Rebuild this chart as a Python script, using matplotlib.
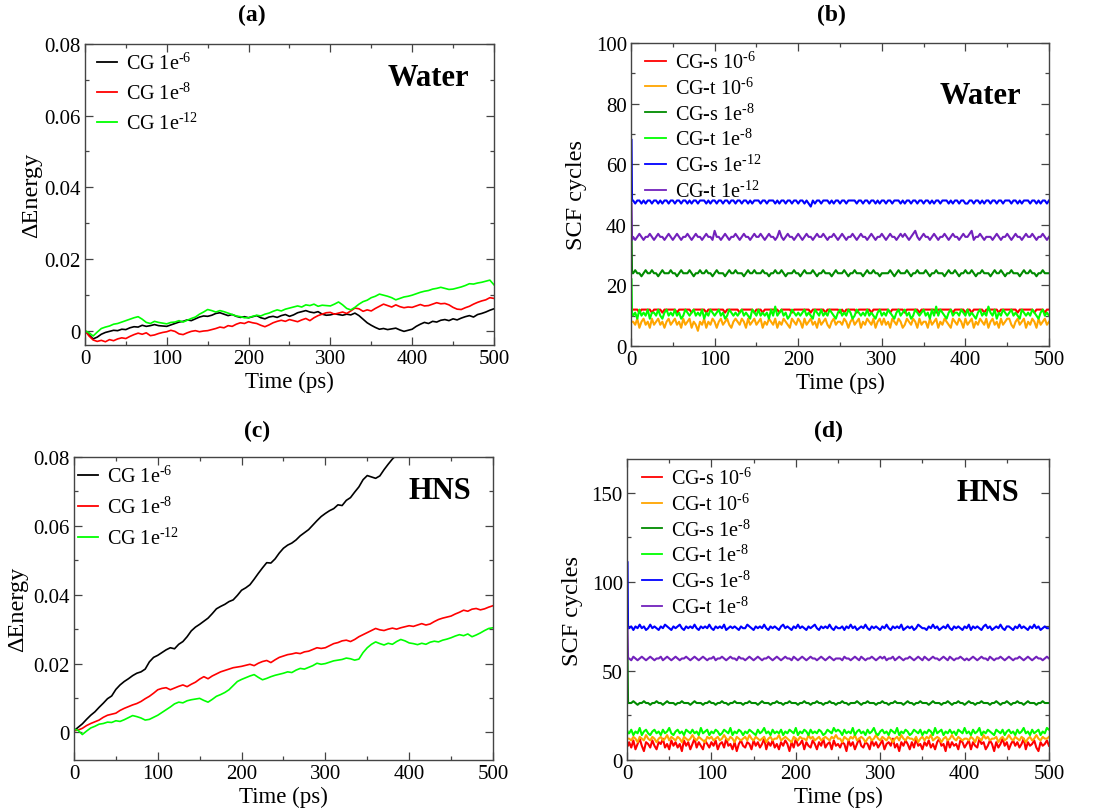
import numpy as np
import matplotlib
matplotlib.use("Agg")
import matplotlib.pyplot as plt
from matplotlib.ticker import MultipleLocator, FuncFormatter

plt.rcParams['font.family'] = ['Liberation Serif', 'DejaVu Serif']
plt.rcParams['mathtext.fontset'] = 'custom'
plt.rcParams['mathtext.rm'] = 'Liberation Serif'
plt.rcParams['mathtext.it'] = 'Liberation Serif:italic'
plt.rcParams['mathtext.bf'] = 'Liberation Serif:bold'

# energy drift traces, one value every 5 ps (in units of 1e-3)
time_e = list(range(0, 501, 5))

water_cg6 = [0.0, -1.2, -2.3, -1.8, -1.0, -0.5, -0.2, 0.1, 0.0, 0.4,
             0.3, 0.8, 1.1, 1.0, 1.5, 1.2, 1.4, 1.7, 1.4, 1.3,
             1.2, 1.6, 2.0, 2.4, 2.6, 3.0, 2.8, 3.3, 3.8, 4.1,
             4.0, 4.3, 4.8, 5.0, 4.6, 4.2, 4.5, 4.0, 3.7, 3.9,
             3.6, 3.9, 4.2, 3.6, 3.3, 3.8, 4.0, 3.7, 4.2, 4.5,
             4.0, 4.4, 5.0, 5.3, 5.6, 5.2, 5.0, 5.3, 4.6, 4.3,
             4.4, 4.7, 4.5, 4.3, 4.6, 4.4, 4.9, 4.2, 3.2, 2.2,
             1.5, 0.9, 0.4, 0.6, 0.3, 0.5, 0.7, 0.2, -0.2, 0.1,
             0.4, 1.2, 1.8, 2.3, 2.0, 2.6, 2.4, 2.9, 3.1, 2.8,
             3.3, 3.0, 3.5, 3.9, 4.2, 3.8, 4.5, 4.8, 5.2, 5.7,
             6.1]
water_cg8 = [0.0, -1.5, -2.6, -3.0, -2.7, -3.1, -2.5, -2.8, -2.3, -2.0,
             -2.2, -1.6, -1.1, -0.7, -1.0, -0.6, -1.4, -1.2, -0.8, -0.5,
             -0.3, 0.1, -0.2, -0.9, -1.1, -0.6, -0.2, 0.0, -0.3, -0.1,
             0.0, 0.3, 0.6, 1.0, 0.8, 1.4, 1.2, 1.8, 2.2, 2.0,
             2.5, 2.2, 2.0, 1.5, 1.1, 1.6, 2.2, 2.6, 2.9, 2.6,
             3.1, 2.8, 2.5, 3.0, 3.4, 2.8, 3.6, 4.2, 4.6, 5.0,
             5.1, 4.6, 4.9, 5.2, 4.8, 5.5, 6.3, 6.1, 5.4, 5.8,
             5.5, 6.2, 6.8, 7.4, 7.0, 6.6, 7.2, 6.7, 6.4, 6.6,
             6.5, 6.9, 7.3, 6.9, 7.0, 7.4, 7.8, 7.5, 7.6, 7.2,
             6.5, 6.0, 5.9, 6.4, 6.8, 7.4, 7.9, 8.3, 8.6, 9.2,
             9.0]
water_cg12 = [0.0, -0.6, -1.5, -0.4, 0.6, 1.0, 1.3, 1.8, 2.0, 2.4,
              2.8, 3.2, 3.6, 3.9, 3.2, 2.3, 2.0, 2.6, 2.3, 2.1,
              1.9, 2.3, 2.4, 2.8, 2.4, 2.9, 3.4, 3.8, 4.6, 5.2,
              5.9, 5.6, 5.2, 5.6, 5.3, 4.9, 4.5, 4.1, 3.9, 3.6,
              3.6, 4.0, 4.3, 4.1, 4.6, 4.9, 5.4, 5.8, 5.5, 6.0,
              6.3, 6.6, 6.9, 6.6, 7.2, 7.0, 7.4, 6.8, 7.1, 7.0,
              6.9, 7.4, 8.0, 7.2, 6.2, 5.8, 6.5, 7.4, 8.1, 8.5,
              9.2, 9.6, 10.2, 9.9, 9.6, 9.2, 8.6, 9.0, 9.4, 9.6,
              9.9, 10.3, 10.7, 11.0, 11.2, 11.6, 11.8, 12.1, 11.8, 11.5,
              11.6, 11.9, 12.2, 12.6, 13.1, 13.0, 13.3, 13.5, 13.8, 14.1,
              12.8]

# HNS, CG 1e-6 leaves the plotted range after ~385 ps
hns_cg6 = [0.5, 1.5, 2.5, 3.8, 5.0, 6.0, 7.3, 8.5, 9.8, 10.6,
           12.5, 13.8, 14.8, 15.6, 16.5, 17.2, 17.6, 18.4, 20.5, 21.8,
           22.4, 23.2, 24.0, 24.6, 24.3, 25.6, 26.4, 27.8, 29.5, 30.6,
           31.4, 32.3, 33.2, 34.5, 35.9, 36.6, 37.2, 38.0, 38.5, 39.8,
           41.3, 42.0, 42.9, 44.5, 46.2, 47.8, 49.3, 49.2, 50.4, 52.1,
           53.5, 54.4, 55.0, 55.9, 57.1, 58.0, 58.9, 60.2, 61.5, 62.7,
           63.6, 64.4, 65.0, 66.1, 65.9, 67.4, 68.2, 69.8, 71.3, 73.4,
           74.6, 74.2, 73.8, 74.5, 76.3, 77.9, 79.4, 80.6, 82.0]
hns_cg8 = [0.5, 0.7, 1.2, 2.0, 2.6, 3.1, 3.6, 4.4, 5.0, 5.3,
           5.6, 6.4, 7.0, 7.5, 8.0, 8.4, 9.0, 9.8, 10.5, 11.4,
           12.4, 12.8, 13.0, 12.4, 12.9, 13.4, 13.8, 13.3, 14.0, 14.6,
           15.5, 16.2, 15.6, 16.4, 17.0, 17.6, 18.0, 18.4, 18.8, 19.0,
           19.2, 19.5, 19.8, 19.4, 20.1, 20.6, 20.9, 20.3, 21.1, 21.8,
           22.2, 22.6, 22.8, 23.1, 22.9, 23.4, 23.6, 24.1, 24.6, 24.4,
           24.6, 25.2, 25.8, 26.1, 26.6, 26.8, 26.4, 27.0, 27.8, 28.4,
           29.0, 29.6, 30.2, 29.8, 29.6, 30.0, 30.3, 30.0, 30.4, 30.7,
           31.0, 30.8, 31.2, 31.6, 31.2, 31.5, 32.2, 32.8, 33.2, 33.5,
           33.8, 34.4, 34.9, 35.5, 35.2, 35.8, 36.0, 35.6, 35.9, 36.4,
           36.8]
hns_cg12 = [1.0, 0.6, -0.6, 0.4, 1.3, 1.8, 2.4, 2.6, 3.0, 2.9,
            3.4, 3.2, 3.7, 4.3, 4.9, 4.6, 4.2, 3.6, 3.8, 4.4,
            5.0, 5.8, 6.6, 7.4, 8.3, 8.8, 8.6, 9.2, 9.5, 9.7,
            9.9, 9.3, 8.8, 9.6, 10.5, 11.0, 11.6, 12.4, 13.6, 14.8,
            15.4, 15.9, 16.4, 16.8, 16.0, 15.3, 15.7, 16.2, 16.6, 16.9,
            17.2, 17.6, 17.4, 18.1, 18.6, 18.4, 18.9, 19.4, 20.1, 19.8,
            20.0, 20.4, 20.8, 21.0, 21.2, 21.6, 21.4, 21.0, 21.3, 23.2,
            24.6, 25.6, 26.3, 25.8, 25.4, 25.9, 25.6, 26.4, 27.0, 26.6,
            26.0, 25.8, 25.5, 25.9, 25.6, 26.2, 26.5, 26.3, 26.8, 27.1,
            27.5, 28.0, 28.4, 28.1, 28.6, 27.8, 28.3, 28.9, 29.6, 30.2,
            30.4]

# SCF cycle counts: first MD steps, then every 2.5 ps
time_scf = [0.6, 1.2] + [2.5 * k for k in range(1, 201)]

w_s6 = [12, 12,
        12, 12, 12, 11, 12, 12, 12, 12, 12, 11, 12, 12, 12, 12, 11, 12, 12, 12, 12, 12,
        12, 11, 12, 12, 12, 12, 12, 12, 11, 12, 12, 12, 12, 12, 12, 11, 12, 12, 12, 12,
        12, 12, 12, 12, 11, 12, 12, 12, 12, 12, 12, 11, 12, 12, 12, 12, 12, 12, 11, 12,
        12, 12, 11, 12, 12, 12, 12, 12, 12, 12, 11, 12, 12, 12, 12, 12, 11, 12, 12, 12,
        12, 12, 12, 12, 12, 11, 12, 12, 12, 12, 12, 12, 11, 12, 12, 12, 12, 12, 12, 11,
        12, 11, 12, 12, 12, 12, 12, 11, 12, 12, 12, 12, 12, 12, 11, 12, 12, 12, 12, 12,
        12, 12, 12, 11, 12, 12, 12, 12, 12, 12, 11, 12, 12, 12, 12, 12, 12, 11, 12, 12,
        12, 12, 12, 12, 12, 11, 12, 12, 12, 12, 12, 12, 12, 11, 12, 12, 12, 12, 12, 11,
        12, 12, 11, 12, 12, 12, 12, 12, 11, 12, 12, 12, 12, 12, 12, 11, 12, 12, 12, 12,
        12, 12, 12, 12, 11, 12, 12, 12, 12, 12, 12, 12, 11, 12, 12, 12, 12, 11, 12, 12]
w_t6 = [8, 8,
        8, 7, 9, 6, 8, 9, 7, 8, 6, 9, 7, 8, 9, 7, 8, 6, 8, 9, 7, 8,
        9, 7, 8, 6, 9, 7, 8, 9, 6, 8, 7, 5, 8, 7, 9, 6, 8, 7, 9, 8,
        6, 8, 9, 7, 8, 9, 7, 6, 8, 9, 8, 7, 9, 8, 6, 9, 7, 8, 9, 7,
        8, 9, 6, 8, 7, 9, 8, 7, 9, 6, 8, 7, 9, 8, 7, 6, 9, 8, 7, 9,
        8, 6, 9, 7, 8, 9, 7, 8, 6, 9, 7, 8, 9, 7, 6, 8, 9, 7, 8, 8,
        7, 9, 8, 6, 8, 9, 7, 8, 9, 6, 8, 7, 9, 8, 7, 9, 6, 8, 9, 7,
        9, 7, 8, 6, 9, 8, 7, 9, 8, 6, 7, 9, 8, 7, 9, 8, 6, 9, 7, 8,
        8, 6, 9, 7, 8, 9, 6, 8, 7, 9, 8, 7, 6, 9, 8, 7, 9, 8, 6, 9,
        7, 8, 9, 6, 8, 7, 9, 8, 7, 9, 6, 8, 9, 7, 8, 6, 9, 7, 8, 9,
        9, 7, 6, 8, 9, 7, 8, 9, 6, 8, 7, 9, 8, 6, 9, 7, 8, 9, 7, 8]
w_s8 = [38, 24,
        24, 25, 24, 24, 23, 24, 25, 24, 24, 25, 24, 24, 23, 24, 25, 24, 24, 24, 25, 24,
        24, 23, 24, 25, 24, 24, 24, 25, 24, 23, 24, 24, 25, 24, 24, 25, 24, 24, 23, 24,
        25, 24, 24, 24, 23, 24, 25, 24, 24, 25, 24, 24, 24, 23, 24, 25, 24, 24, 25, 24,
        24, 24, 25, 24, 24, 23, 24, 24, 25, 24, 24, 25, 24, 23, 24, 24, 24, 25, 24, 24,
        23, 24, 25, 24, 24, 24, 25, 24, 23, 24, 24, 25, 24, 24, 24, 23, 24, 25, 24, 24,
        24, 25, 24, 23, 24, 24, 25, 24, 24, 24, 23, 24, 25, 24, 24, 25, 24, 24, 23, 24,
        24, 24, 24, 25, 24, 23, 24, 25, 24, 24, 24, 25, 24, 23, 24, 24, 25, 24, 24, 24,
        25, 24, 23, 24, 24, 25, 24, 24, 24, 23, 24, 25, 24, 24, 25, 24, 23, 24, 24, 25,
        24, 24, 25, 24, 23, 24, 24, 25, 24, 24, 24, 23, 24, 25, 24, 24, 25, 24, 23, 24,
        24, 25, 24, 24, 24, 23, 24, 25, 24, 24, 25, 24, 24, 23, 24, 24, 25, 24, 24, 24]
w_t8 = [22, 11,
        10, 11, 9, 12, 10, 11, 10, 12, 9, 11, 11, 10, 12, 10, 9, 11, 12, 10, 11, 10,
        12, 10, 11, 9, 10, 12, 11, 10, 11, 12, 10, 11, 10, 12, 9, 11, 10, 12, 11, 10,
        11, 12, 10, 11, 9, 10, 12, 11, 10, 11, 10, 11, 12, 10, 11, 10, 9, 12, 11, 10,
        12, 10, 11, 10, 11, 9, 12, 10, 13, 10, 11, 12, 10, 11, 9, 10, 12, 11, 10, 11,
        10, 11, 12, 10, 11, 10, 9, 12, 11, 10, 12, 10, 11, 10, 12, 11, 10, 9, 11, 12,
        10, 11, 10, 12, 11, 9, 10, 12, 11, 10, 11, 10, 12, 10, 11, 10, 9, 11, 12, 10,
        11, 10, 12, 11, 10, 9, 11, 12, 10, 11, 12, 10, 11, 9, 10, 12, 11, 10, 11, 12,
        10, 11, 9, 12, 10, 13, 10, 12, 11, 10, 9, 11, 12, 10, 11, 11, 10, 12, 11, 10,
        12, 10, 11, 10, 9, 11, 12, 10, 11, 10, 13, 11, 10, 12, 9, 11, 10, 12, 11, 10,
        11, 12, 10, 11, 10, 9, 12, 11, 10, 11, 10, 12, 11, 10, 9, 11, 12, 10, 11, 10]
w_s12 = [68, 48,
         48, 47, 48, 48, 47, 48, 47, 48, 48, 47, 48, 48, 47, 48, 47, 48, 48, 47, 48, 48,
         47, 48, 48, 47, 48, 48, 47, 48, 47, 48, 48, 47, 48, 48, 48, 47, 48, 47, 48, 48,
         47, 48, 48, 47, 48, 48, 47, 48, 48, 47, 48, 48, 47, 48, 48, 47, 48, 47, 48, 48,
         48, 47, 48, 48, 47, 48, 48, 48, 47, 48, 47, 48, 48, 47, 48, 48, 47, 48, 48, 47,
         48, 48, 47, 48, 47, 46, 48, 47, 48, 48, 47, 48, 48, 48, 47, 48, 47, 48, 48, 47,
         48, 48, 47, 48, 48, 48, 48, 47, 48, 48, 47, 48, 48, 47, 48, 48, 47, 48, 47, 48,
         48, 47, 48, 48, 47, 48, 48, 48, 47, 48, 47, 48, 48, 47, 48, 48, 47, 48, 48, 47,
         48, 48, 47, 48, 47, 48, 48, 47, 48, 48, 48, 47, 48, 47, 48, 48, 47, 48, 48, 47,
         47, 48, 48, 47, 48, 48, 47, 48, 47, 48, 48, 47, 48, 48, 47, 48, 48, 47, 48, 48,
         48, 47, 48, 48, 47, 48, 47, 48, 48, 48, 47, 48, 48, 47, 48, 47, 48, 48, 47, 48]
w_t12 = [47, 35,
         36, 35, 36, 37, 36, 35, 36, 36, 37, 36, 35, 36, 37, 36, 36, 35, 36, 37, 36, 35,
         36, 37, 36, 35, 36, 36, 37, 36, 35, 36, 37, 36, 36, 35, 36, 37, 36, 36, 35, 38,
         36, 36, 35, 36, 37, 36, 35, 36, 36, 37, 36, 35, 36, 37, 36, 36, 35, 36, 37, 36,
         36, 37, 36, 35, 36, 37, 36, 36, 35, 36, 38, 36, 35, 36, 37, 36, 36, 35, 36, 37,
         36, 35, 36, 37, 36, 36, 35, 36, 37, 36, 36, 37, 36, 35, 36, 36, 37, 36, 35, 36,
         37, 36, 35, 36, 36, 37, 36, 35, 36, 37, 36, 36, 35, 36, 37, 36, 35, 36, 36, 37,
         36, 35, 36, 37, 36, 36, 35, 36, 37, 36, 37, 36, 35, 36, 37, 38, 36, 35, 36, 37,
         36, 36, 35, 36, 37, 36, 35, 36, 36, 37, 36, 35, 36, 37, 36, 36, 35, 36, 37, 36,
         36, 37, 38, 35, 36, 36, 37, 36, 35, 36, 36, 36, 35, 36, 37, 36, 35, 36, 36, 37,
         36, 35, 36, 37, 36, 36, 35, 36, 37, 36, 36, 37, 36, 35, 36, 36, 37, 36, 35, 36]

h_s6 = [9, 8,
        10, 7, 11, 6, 9, 12, 8, 5, 10, 9, 7, 11, 8, 6, 10, 9, 12, 7, 9, 6,
        11, 8, 10, 7, 9, 5, 11, 8, 10, 6, 9, 12, 7, 10, 8, 6, 11, 9, 7, 10,
        8, 11, 6, 9, 10, 7, 12, 8, 9, 6, 10, 5, 9, 11, 8, 7, 10, 9, 6, 11,
        8, 10, 7, 9, 12, 6, 10, 8, 11, 7, 9, 6, 10, 8, 11, 9, 5, 10, 7, 12,
        8, 9, 11, 6, 10, 8, 7, 11, 9, 6, 10, 8, 12, 7, 9, 10, 6, 11, 8, 9,
        7, 10, 9, 5, 11, 8, 10, 6, 9, 12, 8, 7, 10, 9, 6, 11, 8, 10, 7, 9,
        11, 6, 9, 10, 8, 12, 7, 9, 5, 10, 8, 11, 9, 6, 10, 7, 12, 8, 9, 6,
        10, 8, 11, 7, 9, 6, 10, 12, 8, 9, 5, 11, 7, 10, 8, 9, 6, 11, 10, 7,
        9, 11, 6, 10, 8, 7, 12, 9, 10, 6, 8, 11, 9, 5, 10, 7, 9, 12, 8, 10,
        6, 9, 11, 8, 10, 7, 9, 12, 6, 10, 8, 9, 11, 7, 5, 10, 8, 9, 11, 8]
h_t6 = [12, 12,
        12, 11, 13, 12, 10, 13, 12, 11, 14, 12, 11, 13, 12, 10, 12, 13, 11, 12, 14, 11,
        13, 12, 11, 13, 12, 10, 13, 12, 11, 12, 14, 12, 11, 13, 12, 11, 10, 13, 12, 13,
        11, 12, 13, 11, 12, 14, 12, 11, 13, 12, 10, 13, 12, 11, 12, 13, 11, 14, 12, 11,
        13, 12, 11, 12, 13, 10, 12, 13, 11, 12, 12, 14, 11, 12, 13, 12, 11, 10, 13, 12,
        11, 13, 12, 12, 11, 14, 12, 13, 11, 12, 13, 11, 12, 13, 12, 11, 13, 12, 14, 12,
        12, 10, 13, 12, 11, 13, 12, 14, 11, 12, 13, 12, 10, 12, 13, 11, 12, 14, 12, 11,
        13, 12, 11, 13, 12, 10, 12, 13, 11, 14, 12, 11, 13, 12, 12, 11, 13, 10, 12, 13,
        11, 13, 12, 14, 11, 12, 13, 12, 10, 12, 13, 11, 12, 14, 12, 11, 13, 12, 11, 12,
        12, 11, 13, 12, 10, 13, 12, 11, 14, 12, 13, 11, 12, 12, 13, 10, 12, 13, 11, 12,
        14, 12, 11, 13, 12, 11, 13, 12, 10, 12, 13, 11, 12, 14, 12, 11, 13, 12, 12, 13]
h_s8 = [57, 32,
        32, 32, 33, 32, 31, 32, 32, 33, 32, 32, 31, 32, 32, 33, 32, 32, 31, 32, 33, 32,
        32, 32, 31, 32, 32, 33, 32, 32, 32, 31, 32, 33, 32, 32, 32, 31, 32, 32, 33, 32,
        32, 31, 32, 32, 33, 32, 32, 31, 32, 32, 33, 32, 32, 32, 31, 32, 32, 33, 32, 32,
        32, 31, 32, 33, 32, 32, 32, 31, 32, 32, 33, 32, 32, 31, 32, 32, 33, 32, 32, 32,
        31, 32, 32, 33, 32, 32, 31, 32, 32, 33, 32, 32, 31, 32, 32, 33, 32, 32, 31, 32,
        32, 33, 32, 32, 31, 32, 32, 32, 33, 32, 31, 32, 32, 33, 32, 32, 32, 31, 32, 32,
        33, 32, 32, 31, 32, 32, 33, 32, 32, 32, 31, 32, 33, 32, 32, 31, 32, 32, 33, 32,
        32, 32, 31, 32, 33, 32, 32, 32, 31, 32, 32, 33, 32, 31, 32, 32, 33, 32, 32, 31,
        32, 33, 32, 32, 31, 32, 32, 33, 32, 32, 32, 31, 32, 32, 33, 32, 31, 32, 32, 33,
        32, 31, 32, 32, 33, 32, 32, 31, 32, 33, 32, 32, 32, 31, 32, 32, 33, 32, 32, 32]
h_t8 = [16, 15,
        15, 17, 14, 16, 15, 18, 14, 16, 17, 15, 14, 16, 17, 15, 16, 14, 17, 15, 16, 18,
        15, 14, 16, 17, 15, 16, 14, 17, 16, 15, 17, 15, 16, 14, 18, 15, 16, 17, 14, 16,
        15, 17, 16, 14, 15, 17, 16, 15, 18, 14, 16, 15, 17, 16, 14, 16, 15, 17, 16, 15,
        14, 17, 15, 16, 18, 15, 16, 14, 17, 15, 16, 15, 17, 14, 16, 15, 17, 16, 15, 18,
        14, 16, 15, 17, 16, 14, 17, 15, 16, 15, 17, 16, 14, 15, 17, 16, 15, 18, 16, 17,
        16, 14, 17, 15, 16, 15, 18, 14, 16, 17, 15, 16, 14, 17, 15, 16, 18, 15, 14, 16,
        17, 15, 16, 14, 17, 16, 15, 18, 14, 16, 15, 17, 16, 14, 15, 17, 16, 15, 17, 14,
        16, 15, 17, 16, 14, 18, 15, 16, 17, 14, 16, 15, 17, 15, 16, 14, 17, 16, 15, 18,
        15, 16, 14, 17, 15, 16, 18, 14, 16, 15, 17, 16, 15, 14, 17, 16, 15, 17, 14, 16,
        17, 15, 16, 14, 17, 15, 16, 18, 15, 16, 14, 17, 15, 16, 17, 14, 16, 15, 18, 17]
h_s12 = [111, 74,
         74, 75, 73, 75, 74, 76, 74, 75, 73, 74, 76, 74, 75, 74, 73, 75, 74, 76, 75, 74,
         73, 75, 74, 75, 76, 74, 73, 75, 74, 75, 74, 76, 74, 73, 75, 74, 75, 74, 76, 74,
         73, 75, 74, 75, 74, 76, 73, 74, 75, 74, 75, 74, 73, 75, 74, 74, 76, 75, 74, 73,
         75, 74, 75, 74, 76, 74, 73, 75, 74, 75, 74, 73, 75, 76, 74, 75, 74, 73, 75, 74,
         76, 74, 75, 74, 73, 75, 74, 75, 76, 74, 73, 75, 74, 75, 74, 76, 74, 73, 75, 74,
         74, 75, 73, 75, 74, 76, 74, 75, 73, 74, 75, 74, 76, 74, 73, 75, 74, 75, 74, 73,
         75, 74, 76, 74, 73, 75, 74, 75, 74, 76, 73, 74, 75, 74, 75, 73, 74, 76, 75, 74,
         74, 73, 75, 74, 76, 74, 75, 73, 74, 75, 74, 76, 74, 73, 75, 74, 75, 74, 73, 75,
         74, 76, 73, 75, 74, 75, 74, 73, 75, 76, 74, 75, 73, 74, 75, 74, 76, 74, 73, 75,
         75, 74, 73, 75, 74, 76, 74, 75, 74, 73, 75, 74, 76, 74, 75, 73, 74, 75, 74, 74]
h_t12 = [74, 57,
         57, 56, 58, 57, 56, 57, 58, 57, 56, 57, 58, 57, 56, 57, 57, 58, 56, 57, 58, 57,
         56, 57, 58, 57, 56, 57, 57, 58, 57, 56, 57, 58, 57, 56, 57, 58, 57, 56, 57, 57,
         58, 56, 57, 57, 58, 57, 56, 57, 58, 57, 57, 56, 58, 57, 57, 56, 57, 58, 57, 56,
         57, 58, 57, 56, 57, 57, 58, 57, 56, 57, 58, 57, 56, 57, 58, 57, 57, 56, 58, 57,
         56, 57, 58, 57, 56, 57, 58, 57, 57, 56, 57, 58, 57, 56, 57, 58, 57, 56, 57, 57,
         57, 56, 58, 57, 57, 56, 57, 58, 57, 56, 58, 57, 56, 57, 57, 58, 57, 56, 57, 58,
         57, 58, 56, 57, 57, 58, 56, 57, 58, 57, 56, 57, 57, 58, 57, 56, 57, 58, 57, 56,
         58, 57, 56, 57, 58, 57, 57, 56, 57, 58, 57, 56, 58, 57, 56, 57, 57, 58, 57, 56,
         57, 56, 57, 58, 57, 56, 57, 58, 57, 57, 56, 58, 57, 56, 57, 57, 58, 57, 56, 57,
         58, 57, 56, 57, 57, 58, 57, 56, 57, 58, 57, 56, 57, 58, 57, 57, 56, 57, 58, 57]

energy_labels = ['CG 1e$^{\\text{-6}}$', 'CG 1e$^{\\text{-8}}$', 'CG 1e$^{\\text{-12}}$']
energy_colors = ['black', '#ff0000', '#00ff00']
scf_labels_water = ['CG-s 10$^{\\text{-6}}$', 'CG-t 10$^{\\text{-6}}$', 'CG-s 1e$^{\\text{-8}}$',
                    'CG-t 1e$^{\\text{-8}}$', 'CG-s 1e$^{\\text{-12}}$', 'CG-t 1e$^{\\text{-12}}$']
scf_labels_hns = ['CG-s 10$^{\\text{-6}}$', 'CG-t 10$^{\\text{-6}}$', 'CG-s 1e$^{\\text{-8}}$',
                  'CG-t 1e$^{\\text{-8}}$', 'CG-s 1e$^{\\text{-8}}$', 'CG-t 1e$^{\\text{-8}}$']
scf_colors = ['#ff0000', '#ffa500', '#008b00', '#00ff00', '#0000ff', '#7221bc']

FRAME = '#444444'


def style_axes(ax, ylim, ymajor, yminor):
    ax.set_xlim(0, 500)
    ax.set_ylim(*ylim)
    ax.xaxis.set_major_locator(MultipleLocator(100))
    ax.xaxis.set_minor_locator(MultipleLocator(50))
    ax.yaxis.set_major_locator(MultipleLocator(ymajor))
    ax.yaxis.set_minor_locator(MultipleLocator(yminor))
    ax.tick_params(which='both', direction='in', top=True, right=True,
                   color=FRAME, width=0.9, labelsize=15, pad=3)
    ax.tick_params(which='major', length=6)
    ax.tick_params(which='minor', length=3)
    for sp in ax.spines.values():
        sp.set_color(FRAME)
        sp.set_linewidth(1.0)
    ax.set_xlabel('Time (ps)', fontsize=16.5)
    ax.xaxis.set_label_coords(0.5, -0.085)


def energy_fmt(v, pos):
    return '0' if abs(v) < 1e-9 else f'{v:.2f}'


fig = plt.figure(figsize=(11.09, 8.12), dpi=100)
ax_a = fig.add_axes([0.0766, 0.5739, 0.3688, 0.3707])
ax_b = fig.add_axes([0.5690, 0.5727, 0.3769, 0.3732])
ax_c = fig.add_axes([0.0667, 0.0628, 0.3778, 0.3732])
ax_d = fig.add_axes([0.5654, 0.0628, 0.3805, 0.3707])

# (a) water energy drift
for ys, c, lab in zip([water_cg6, water_cg8, water_cg12], energy_colors, energy_labels):
    ax_a.plot(time_e[:len(ys)], np.array(ys) * 1e-3, color=c, lw=1.2, label=lab)
style_axes(ax_a, (-0.004, 0.08), 0.02, 0.01)
ax_a.yaxis.set_major_formatter(FuncFormatter(energy_fmt))
ax_a.set_ylabel('ΔEnergy', fontsize=17.5)
ax_a.yaxis.set_label_coords(-0.105, 0.5)

# (c) HNS energy drift
for ys, c, lab in zip([hns_cg6, hns_cg8, hns_cg12], energy_colors, energy_labels):
    ax_c.plot(time_e[:len(ys)], np.array(ys) * 1e-3, color=c, lw=1.2, label=lab)
style_axes(ax_c, (-0.008, 0.08), 0.02, 0.01)
ax_c.yaxis.set_major_formatter(FuncFormatter(energy_fmt))
ax_c.set_ylabel('ΔEnergy', fontsize=17.5)
ax_c.yaxis.set_label_coords(-0.11, 0.5)

# (b) water SCF cycles
for ys, c, lab in zip([w_s6, w_t6, w_s8, w_t8, w_s12, w_t12], scf_colors, scf_labels_water):
    ax_b.plot(time_scf, ys, color=c, lw=1.5, label=lab)
style_axes(ax_b, (0, 100), 20, 10)
ax_b.set_ylabel('SCF cycles', fontsize=17.5)
ax_b.yaxis.set_label_coords(-0.105, 0.5)

# (d) HNS SCF cycles
for ys, c, lab in zip([h_s6, h_t6, h_s8, h_t8, h_s12, h_t12], scf_colors, scf_labels_hns):
    ax_d.plot(time_scf, ys, color=c, lw=1.5, label=lab)
style_axes(ax_d, (0, 169), 50, 25)
ax_d.set_ylabel('SCF cycles', fontsize=17.5)
ax_d.yaxis.set_label_coords(-0.104, 0.5)

for ax, anchor, sp in [(ax_a, (0.02, 0.985), 0.45), (ax_c, (0.0, 0.985), 0.5),
                       (ax_b, (0.025, 0.985), 0.23), (ax_d, (0.025, 0.985), 0.23)]:
    leg = ax.legend(loc='upper left', bbox_to_anchor=anchor, frameon=False,
                    fontsize=14.5, handlelength=1.0, handletextpad=0.45,
                    labelspacing=sp, borderaxespad=0, borderpad=0.2)
    for h in leg.get_lines():
        h.set_linewidth(1.3)

ax_a.text(0.84, 0.89, 'Water', transform=ax_a.transAxes, fontsize=22,
          fontweight='bold', ha='center', va='center')
ax_b.text(0.835, 0.825, 'Water', transform=ax_b.transAxes, fontsize=22,
          fontweight='bold', ha='center', va='center')
ax_c.text(0.873, 0.888, 'HNS', transform=ax_c.transAxes, fontsize=22,
          fontweight='bold', ha='center', va='center')
ax_d.text(0.855, 0.89, 'HNS', transform=ax_d.transAxes, fontsize=22,
          fontweight='bold', ha='center', va='center')

for lab, x, y in [('(a)', 0.2272, 0.9815), ('(b)', 0.7493, 0.9815),
                  ('(c)', 0.2317, 0.4692), ('(d)', 0.7475, 0.4692)]:
    fig.text(x, y, lab, fontsize=17, fontweight='bold', ha='center', va='center')

fig.savefig('out.png', dpi=100)
